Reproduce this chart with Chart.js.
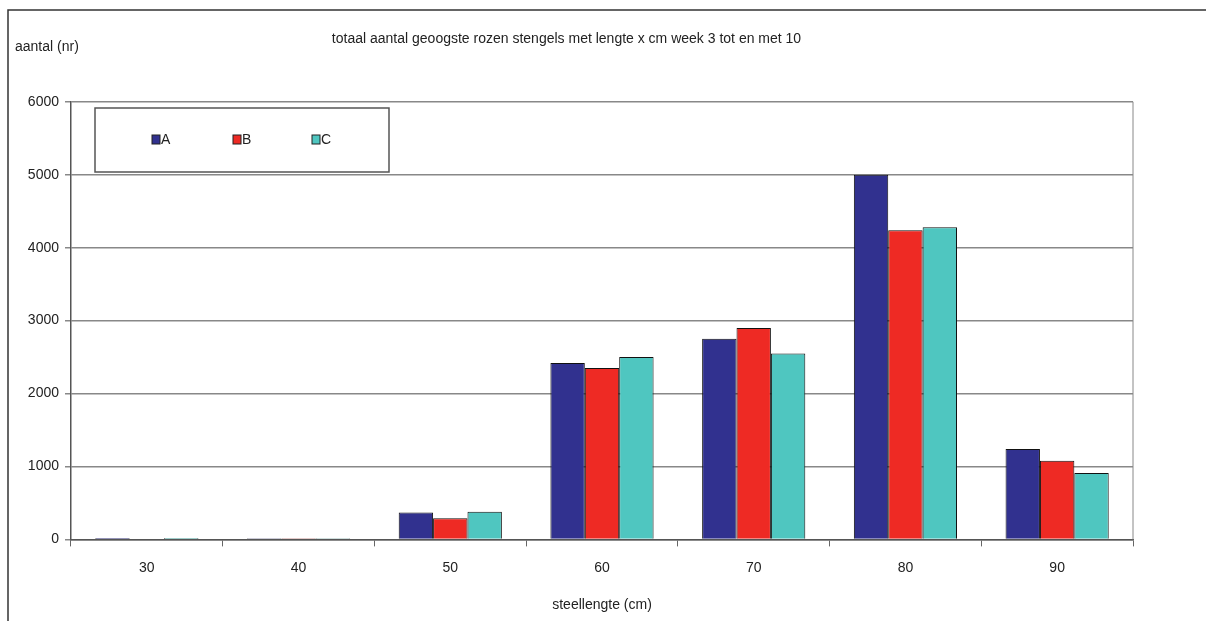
<!DOCTYPE html>
<html>
<head>
<meta charset="utf-8">
<script src="https://cdn.jsdelivr.net/npm/chart.js@4/dist/chart.umd.min.js"></script>
<style>
  html, body { margin: 0; padding: 0; background: #fff; }
  #wrap { width: 1206px; height: 621px; position: relative; }
</style>
</head>
<body>
<div id="wrap"><canvas id="c" width="1206" height="621"></canvas></div>
<script>
const categories = ['30', '40', '50', '60', '70', '80', '90'];
const seriesA = [20, 15, 370, 2420, 2750, 5000, 1240];
const seriesB = [0, 15, 290, 2350, 2900, 4240, 1080];
const seriesC = [20, 15, 380, 2500, 2550, 4280, 910];
const yTicks = [0, 1000, 2000, 3000, 4000, 5000, 6000];

const FONT = 'Liberation Sans, Arial, sans-serif';

// frame, plot border, y label and boxed legend
const decor = {
    id: 'decor',
    beforeDraw(chart) {
        const { ctx } = chart;
        ctx.save();
        ctx.strokeStyle = '#333';
        ctx.lineWidth = 1.5;
        ctx.beginPath();
        ctx.moveTo(8, 621); ctx.lineTo(8, 10); ctx.lineTo(1206, 10);
        ctx.stroke();
        ctx.restore();
    },
    afterDraw(chart) {
        const { ctx, chartArea: a } = chart;
        ctx.save();
        ctx.strokeStyle = '#888';
        ctx.lineWidth = 1;
        ctx.beginPath();
        ctx.moveTo(a.right, a.top); ctx.lineTo(a.right, a.bottom);
        ctx.stroke();

        ctx.fillStyle = '#222';
        ctx.font = '14px ' + FONT;
        ctx.textBaseline = 'middle';
        ctx.fillText('aantal (nr)', 15, 47);

        // legend box
        ctx.fillStyle = '#fff';
        ctx.fillRect(95, 108, 294, 64);
        ctx.strokeStyle = '#555';
        ctx.lineWidth = 1.5;
        ctx.strokeRect(95, 108, 294, 64);
        const xs = [152, 233, 312];
        chart.data.datasets.forEach((ds, i) => {
            ctx.fillStyle = ds.backgroundColor;
            ctx.fillRect(xs[i], 135, 8, 9);
            ctx.strokeStyle = '#222';
            ctx.lineWidth = 1;
            ctx.strokeRect(xs[i], 135, 8, 9);
            ctx.fillStyle = '#222';
            ctx.font = '14px ' + FONT;
            ctx.fillText(ds.label, xs[i] + 9, 140);
        });
        ctx.restore();
    }
};

new Chart(document.getElementById('c'), {
    type: 'bar',
    data: {
        labels: categories,
        datasets: [
            { label: 'A', data: seriesA, backgroundColor: '#31318f' },
            { label: 'B', data: seriesB, backgroundColor: '#ee2a24' },
            { label: 'C', data: seriesC, backgroundColor: '#4fc6c0' }
        ].map(d => ({ ...d, borderColor: '#111', borderWidth: 1, categoryPercentage: 0.68, barPercentage: 1 }))
    },
    options: {
        responsive: false,
        animation: false,
        layout: { padding: { top: 0, right: 73, bottom: 3, left: 0 } },
        plugins: {
            legend: { display: false },
            tooltip: { enabled: false },
            title: {
                display: true,
                text: 'totaal aantal geoogste rozen stengels met lengte x cm week 3 tot en met 10',
                color: '#222',
                font: { family: FONT, size: 14, weight: 'normal' },
                padding: { top: 31, bottom: 54 }
            }
        },
        scales: {
            x: {
                grid: { offset: true, drawOnChartArea: false, color: '#666', tickLength: 7 },
                border: { color: '#555', width: 1.5 },
                ticks: { color: '#222', font: { family: FONT, size: 14 }, padding: 13 },
                title: { display: true, text: 'steellengte (cm)', color: '#222', font: { family: FONT, size: 14 }, padding: { top: 8 } }
            },
            y: {
                min: 0, max: 6000,
                afterFit(s) { s.width = 71; },
                afterBuildTicks(s) { s.ticks = yTicks.map(v => ({ value: v })); },
                grid: { color: '#888', lineWidth: 1.5, tickLength: 6 },
                border: { color: '#555', width: 1.5 },
                ticks: { color: '#222', font: { family: FONT, size: 14 }, padding: 6, callback: v => String(v) }
            }
        }
    },
    plugins: [decor]
});
</script>
</body>
</html>
